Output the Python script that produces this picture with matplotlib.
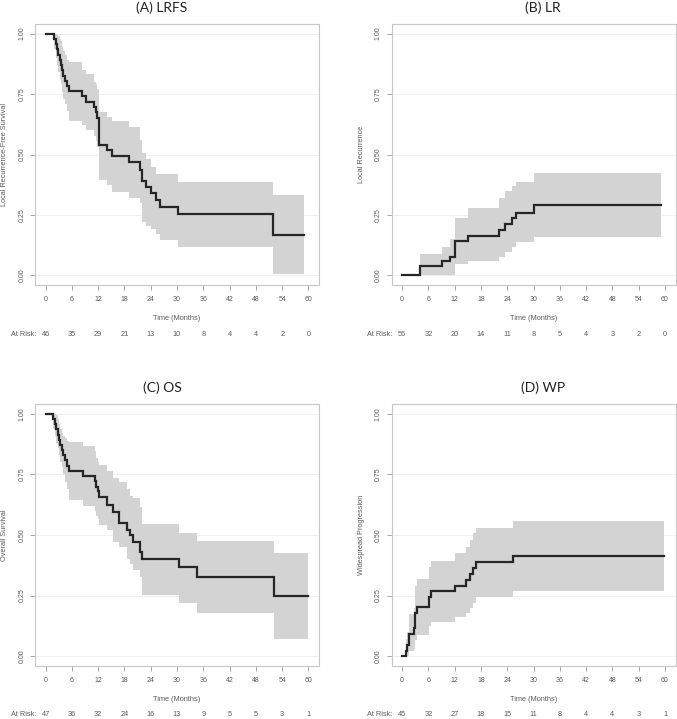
import matplotlib.pyplot as plt
from matplotlib.transforms import blended_transform_factory

plt.rcParams['font.family'] = ['Liberation Sans', 'DejaVu Sans']

months = [0, 6, 12, 18, 24, 30, 36, 42, 48, 54, 60]
y_ticks = [0.0, 0.25, 0.5, 0.75, 1.0]
y_tick_labels = ['0.00', '0.25', '0.50', '0.75', '1.00']

# (A) local recurrence-free survival
lrfs_time = [0, 1.9, 2.3, 2.6, 2.9, 3.2, 3.5, 3.8, 4.1, 4.4, 4.8, 5.4, 8.4, 9.3, 11.0, 11.5,
             11.8, 12.1, 14.0, 15.2, 19.0, 21.5, 22.0, 23.0, 24.1, 25.3, 26.2, 30.2, 52.0]
lrfs_est = [1.0, .978, .957, .935, .913, .891, .870, .848, .826, .804, .783, .761, .741, .719, .696, .674,
            .652, .539, .517, .494, .470, .435, .390, .367, .339, .310, .281, .254, .168]
lrfs_lower = [1.0, .937, .90, .87, .84, .81, .79, .76, .73, .71, .68, .64, .622, .60, .575, .555,
              .53, .394, .374, .346, .32, .30, .22, .205, .19, .17, .146, .116, .007]
lrfs_upper = [1.0, 1.0, 1.0, 1.0, .99, .98, .97, .95, .93, .91, .89, .884, .85, .833, .80, .79,
              .77, .677, .655, .64, .615, .56, .505, .48, .45, .42, .42, .388, .332]
lrfs_end = 59.0
lrfs_risk = [46, 35, 29, 21, 13, 10, 8, 4, 4, 2, 0]

# (B) local recurrence
lr_time = [0, 4.1, 9.2, 10.95, 12.1, 15.1, 22.1, 23.6, 25.2, 25.9, 30.1]
lr_est = [0.0, .039, .059, .077, .143, .164, .188, .212, .236, .26, .292]
lr_lower = [0.0, 0.0, 0.0, 0.0, .045, .059, .077, .095, .119, .137, .16]
lr_upper = [0.0, .087, .119, .149, .236, .28, .32, .35, .37, .385, .425]
lr_end = 59.0
lr_risk = [56, 32, 20, 14, 11, 8, 5, 4, 3, 2, 0]

# (C) overall survival
os_time = [0, 1.8, 2.2, 2.5, 2.8, 3.1, 3.4, 3.7, 4.0, 4.4, 4.8, 5.4, 8.45, 11.27, 11.6, 11.9,
           12.2, 14.0, 15.4, 16.8, 18.5, 19.2, 20.0, 21.6, 22.1, 30.5, 34.5, 52.2]
os_est = [1.0, .979, .957, .936, .915, .894, .872, .851, .830, .809, .787, .766, .745, .723, .70, .68,
          .658, .625, .594, .55, .52, .50, .47, .43, .40, .366, .328, .248]
os_lower = [1.0, .94, .91, .88, .86, .83, .80, .78, .75, .72, .69, .645, .621, .60, .58, .565,
            .54, .52, .472, .449, .40, .38, .355, .328, .252, .218, .179, .07]
os_upper = [1.0, 1.0, 1.0, .995, .98, .96, .94, .92, .91, .90, .89, .885, .868, .845, .82, .80,
            .79, .765, .734, .72, .689, .66, .652, .617, .544, .51, .475, .427]
os_end = 60.0
os_risk = [47, 36, 32, 24, 16, 13, 9, 5, 5, 3, 1]

# (D) widespread progression
wp_time = [0, 0.9, 1.2, 1.5, 2.7, 3.0, 3.5, 6.2, 6.6, 12.1, 14.7, 15.6, 16.3, 16.8, 25.4]
wp_est = [0.0, .022, .045, .09, .114, .176, .201, .245, .269, .291, .314, .339, .362, .387, .414]
wp_lower = [0.0, 0.0, 0.0, .02, .03, .066, .087, .124, .14, .16, .176, .197, .22, .243, .27]
wp_upper = [0.0, .07, .10, .172, .20, .289, .317, .369, .394, .424, .452, .479, .507, .53, .559]
wp_end = 59.8
wp_risk = [45, 32, 27, 18, 15, 11, 8, 4, 4, 3, 1]

GREY_TXT = '#5a5a5a'


def draw_panel(fig, rect, title, title_x, title_y, ylabel, time, est, lower, upper, end, risk):
    ax = fig.add_axes(rect)
    t = time + [end]
    ax.fill_between(t, lower + [lower[-1]], upper + [upper[-1]], step='post',
                    color='#d3d3d3', linewidth=0, zorder=1)
    ax.step(t, est + [est[-1]], where='post', color='#262626', linewidth=1.6,
            solid_joinstyle='miter', zorder=3)
    ax.set_xlim(-2.4, 62.4)
    ax.set_ylim(-0.04, 1.04)
    ax.set_xticks(months)
    ax.set_xticklabels([str(m) for m in months])
    ax.set_yticks(y_ticks)
    ax.set_yticklabels(y_tick_labels, rotation=90, va='center')
    ax.tick_params(length=3.5, width=0.6, color='#9a9a9a', labelsize=5, labelcolor=GREY_TXT)
    ax.tick_params(axis='x', pad=4.5)
    ax.tick_params(axis='y', pad=3.5)
    for s in ax.spines.values():
        s.set_color('#c8c8c8')
        s.set_linewidth(0.8)
    ax.grid(axis='y', color='#ededed', linewidth=0.6, zorder=0)
    ax.set_axisbelow(True)
    ax.set_xlabel('Time (Months)', fontsize=5.3, color=GREY_TXT, va='center')
    ax.xaxis.set_label_coords(0.5, -0.129)
    ax.set_ylabel(ylabel, fontsize=5.3, color=GREY_TXT, va='center')
    ax.yaxis.set_label_coords(-0.106, 0.5)
    fig.text(title_x, title_y, title, fontsize=10, color='#222222', family=['Lato', 'DejaVu Sans'],
             ha='center', va='center')
    trans = blended_transform_factory(ax.transData, ax.transAxes)
    ax.text(-2.1, -0.188, 'At Risk:', transform=trans, ha='right', va='center',
            fontsize=5.3, color=GREY_TXT, clip_on=False)
    for m, n in zip(months, risk):
        ax.text(m, -0.188, str(n), transform=trans, ha='center', va='center',
                fontsize=5.3, color=GREY_TXT, clip_on=False)
    return ax


fig = plt.figure(figsize=(6.77, 7.19), dpi=100)

draw_panel(fig, [0.0517, 0.6036, 0.4195, 0.3630], '(A) LRFS', 0.2393, 0.989,
           'Local Recurrence-Free Survival', lrfs_time, lrfs_est, lrfs_lower, lrfs_upper, lrfs_end, lrfs_risk)
draw_panel(fig, [0.5783, 0.6036, 0.4195, 0.3630], '(B) LR', 0.802, 0.989,
           'Local Recurrence', lr_time, lr_est, lr_lower, lr_upper, lr_end, lr_risk)
draw_panel(fig, [0.0517, 0.0741, 0.4195, 0.3636], '(C) OS', 0.2393, 0.4604,
           'Overall Survival', os_time, os_est, os_lower, os_upper, os_end, os_risk)
draw_panel(fig, [0.5783, 0.0741, 0.4195, 0.3636], '(D) WP', 0.802, 0.4604,
           'Widespread Progression', wp_time, wp_est, wp_lower, wp_upper, wp_end, wp_risk)

fig.savefig('out.png', dpi=100)
